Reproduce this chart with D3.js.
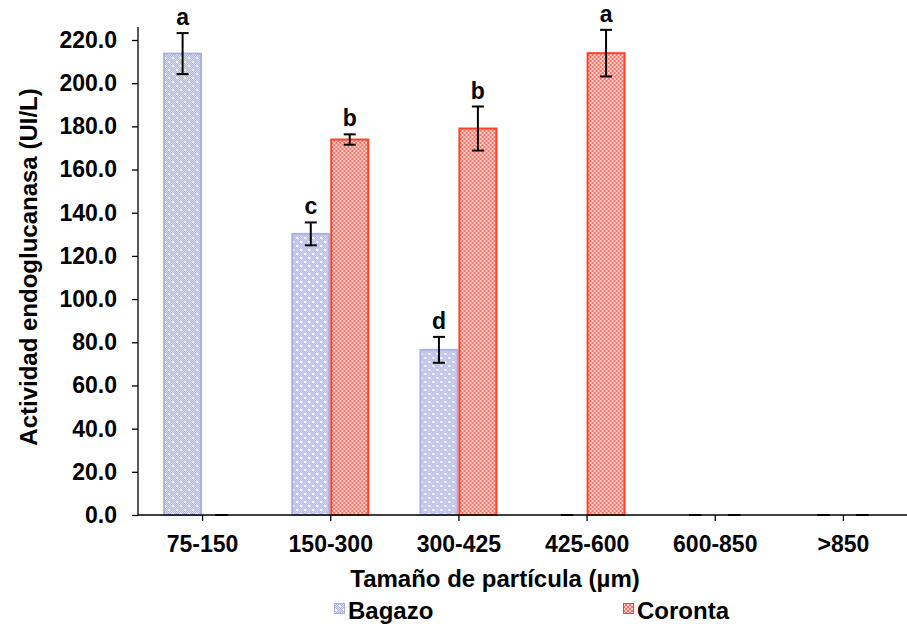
<!DOCTYPE html>
<html>
<head>
<meta charset="utf-8">
<script src="https://cdn.jsdelivr.net/npm/d3@7"></script>
<style>
  html, body { margin: 0; padding: 0; background: #ffffff; }
  svg { display: block; }
  text { font-family: "Liberation Sans", Arial, Helvetica, sans-serif; font-weight: bold; fill: #000; }
</style>
</head>
<body>
<svg id="chart" width="907" height="628"></svg>
<script>
// ---- data ----
const categories = ["75-150", "150-300", "300-425", "425-600", "600-850", ">850"];
const seriesNames = ["Bagazo", "Coronta"];
const bagazo = [213.7, 130.2, 76.5, 0, 0, 0];
const bagazoErr = [9.5, 5.3, 6.0, 0, 0, 0];
const coronta = [0, 173.9, 179.0, 213.9, 0, 0];
const corontaErr = [0, 2.4, 10.2, 10.8, 0, 0];
const bagazoLetters = ["a", "c", "d", "", "", ""];
const corontaLetters = ["", "b", "b", "a", "", ""];
const yTicks = [0, 20, 40, 60, 80, 100, 120, 140, 160, 180, 200, 220];
const yTitle = "Actividad endoglucanasa (UI/L)";
const xTitle = "Tamaño de partícula (µm)";

// ---- layout ----
const svg = d3.select("#chart");
const plot = { left: 138, right: 907, top: 27, bottom: 515 };

const x0 = d3.scaleBand().domain(categories)
  .range([plot.left, plot.right]).paddingInner(0.392).paddingOuter(0.196);
const x1 = d3.scaleBand().domain(seriesNames).range([0, x0.bandwidth()]);
const y = d3.scaleLinear().domain([0, 220]).range([plot.bottom, 40]);

// ---- patterns ----
const defs = svg.append("defs");
const pb = defs.append("pattern").attr("id", "patBagazo")
  .attr("patternUnits", "userSpaceOnUse").attr("width", 8).attr("height", 8);
pb.append("rect").attr("width", 8).attr("height", 8).attr("fill", "#dfe1f5");
for (let i = 0; i < 8; i++) for (let j = 0; j < 8; j++) {
  if ((i + j) % 2 === 0) pb.append("rect").attr("x", i).attr("y", j).attr("width", 1).attr("height", 1).attr("fill", "#a9aee0");
}
pb.append("rect").attr("x", 1).attr("y", 1).attr("width", 2).attr("height", 2).attr("fill", "#ffffff");
pb.append("rect").attr("x", 5).attr("y", 5).attr("width", 2).attr("height", 2).attr("fill", "#ffffff");

const pc = defs.append("pattern").attr("id", "patCoronta")
  .attr("patternUnits", "userSpaceOnUse").attr("width", 4).attr("height", 4);
pc.append("rect").attr("width", 4).attr("height", 4).attr("fill", "#ff6e60");
pc.append("rect").attr("x", 0).attr("y", 0).attr("width", 2).attr("height", 2).attr("fill", "#ffd6d1");
pc.append("rect").attr("x", 2).attr("y", 2).attr("width", 2).attr("height", 2).attr("fill", "#ffd6d1");

const styles = {
  Bagazo: { fill: "url(#patBagazo)", stroke: "#abafe0" },
  Coronta: { fill: "url(#patCoronta)", stroke: "#ff4128" }
};

const rows = categories.map((c, i) => ({
  cat: c,
  vals: [
    { s: "Bagazo", v: bagazo[i], e: bagazoErr[i], l: bagazoLetters[i] },
    { s: "Coronta", v: coronta[i], e: corontaErr[i], l: corontaLetters[i] }
  ]
}));

// ---- bars ----
const g = svg.append("g");
const groups = g.selectAll("g.cat").data(rows).join("g")
  .attr("transform", d => `translate(${x0(d.cat)},0)`);

groups.selectAll("rect.bar").data(d => d.vals.filter(v => v.v > 0)).join("rect")
  .attr("class", "bar")
  .attr("x", d => x1(d.s) + 1)
  .attr("width", x1.bandwidth() - 2)
  .attr("y", d => y(d.v))
  .attr("height", d => y(0) - y(d.v))
  .attr("fill", d => styles[d.s].fill)
  .attr("stroke", d => styles[d.s].stroke)
  .attr("stroke-width", 2);

// ---- axes ----
const yAxis = d3.axisLeft(y).tickValues(yTicks).tickSize(6).tickPadding(15)
  .tickFormat(d3.format(".1f"));
const ya = svg.append("g").attr("transform", `translate(${plot.left},0)`).call(yAxis);
ya.select(".domain").remove();
ya.append("line").attr("x1", 0).attr("x2", 0).attr("y1", plot.top).attr("y2", plot.bottom)
  .attr("stroke", "#000").attr("stroke-width", 1.3);
ya.selectAll(".tick line").attr("stroke", "#000").attr("stroke-width", 1.3);
ya.selectAll(".tick text").style("font-size", "23px").style("font-family", "'Liberation Sans', Arial, sans-serif").style("font-weight", "bold").attr("fill", "#000");

const xAxisScale = d3.scalePoint().domain(categories)
  .range([x0(categories[0]) + x0.bandwidth() / 2, x0(categories[categories.length - 1]) + x0.bandwidth() / 2]);
const xAxis = d3.axisBottom(xAxisScale).tickSize(6).tickPadding(15);
const xa = svg.append("g").attr("transform", `translate(0,${plot.bottom})`).call(xAxis);
xa.select(".domain").remove();
xa.append("line").attr("x1", plot.left).attr("x2", plot.right).attr("y1", 0).attr("y2", 0)
  .attr("stroke", "#000").attr("stroke-width", 1.3);
xa.selectAll(".tick line").attr("stroke", "#000").attr("stroke-width", 1.3);
xa.selectAll(".tick text").style("font-size", "23px").style("font-family", "'Liberation Sans', Arial, sans-serif").style("font-weight", "bold").attr("fill", "#000");

// ---- error bars ----
const eb = groups.selectAll("g.err").data(d => d.vals).join("g")
  .attr("class", "err")
  .attr("transform", d => `translate(${x1(d.s) + x1.bandwidth() / 2},0)`);
eb.append("line").attr("x1", 0).attr("x2", 0)
  .attr("y1", d => y(d.v + d.e)).attr("y2", d => y(d.v - d.e))
  .attr("stroke", "#000").attr("stroke-width", 2);
eb.append("line").attr("x1", -6).attr("x2", 6)
  .attr("y1", d => y(d.v + d.e)).attr("y2", d => y(d.v + d.e))
  .attr("stroke", "#000").attr("stroke-width", 2);
eb.append("line").attr("x1", -6).attr("x2", 6)
  .attr("y1", d => y(d.v - d.e)).attr("y2", d => y(d.v - d.e))
  .attr("stroke", "#000").attr("stroke-width", 2);
eb.filter(d => d.l).append("text")
  .attr("x", 0).attr("y", d => y(d.v + d.e) - 8)
  .attr("text-anchor", "middle").style("font-size", "23px")
  .text(d => d.l);

// ---- titles ----
svg.append("text").attr("transform", "translate(37,267) rotate(-90)")
  .attr("text-anchor", "middle").style("font-size", "24px").text(yTitle);
svg.append("text").attr("x", 495).attr("y", 587)
  .attr("text-anchor", "middle").style("font-size", "24px").text(xTitle);

// ---- legend ----
const legendX = [334, 623];
const lg = svg.selectAll("g.legend").data(seriesNames).join("g")
  .attr("class", "legend")
  .attr("transform", (d, i) => `translate(${legendX[i]},0)`);
lg.append("rect").attr("x", 0.5).attr("y", 603.5).attr("width", 10).attr("height", 10)
  .attr("fill", d => styles[d].fill).attr("stroke", d => styles[d].stroke).attr("stroke-width", 1);
lg.append("text").attr("x", 14).attr("y", 619).style("font-size", "24px").text(d => d);
</script>
</body>
</html>
